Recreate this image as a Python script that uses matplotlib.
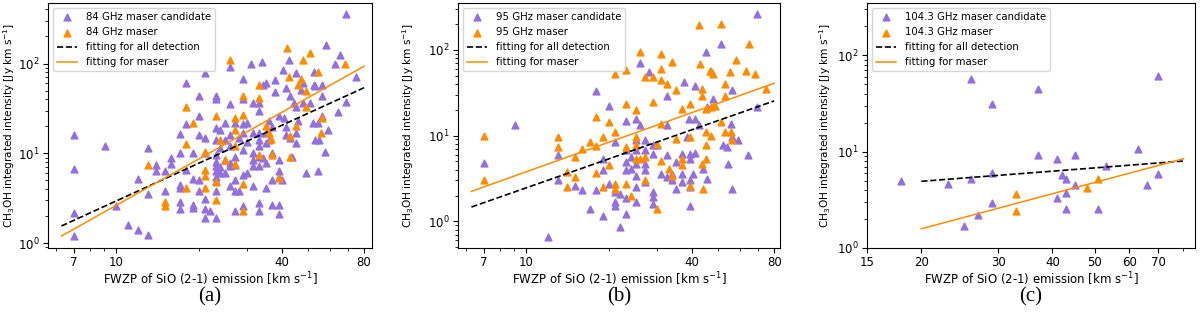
import matplotlib
matplotlib.use("Agg")
import matplotlib.pyplot as plt
from matplotlib.ticker import NullFormatter, FixedLocator, FixedFormatter
import numpy as np

# ---- panel (a): 84 GHz ----
a_cand = [(7,16),(7,6.7),(7,2.2),(7,1.2),(9.1,12),(10,2.6),(11,1.6),(12,5.2),(12,1.4),
          (13,11.5),(13,3.5),(13,1.25),(14,7.5),(14,6.3),(15,6.3),(15,3.8),(15.8,9),(15.8,7.7),
          (17,16.5),(17,10),(17,4.5),(17,4.1),(17,2.9),(17,2.4),(18,60),(18,21.5),(18,6.6),
          (19,10),(19,5.2),(19,2.7),(19,2.5),(20,44),(20,26),(20,16),(20,5),(20,3.8),
          (21,78),(21,15),(21,10),(21,3.1),(21,2.4),(21,1.9),(21.9,2.3),
          (23,43),(23,40),(23,19),(23,14),(23,9.5),(23,8.1),(23,7.2),(23,6.3),(23,5.5),(23,4.9),(23,3.8),(23,1.9),
          (23.8,18),(23.8,11.6),(23.8,7),(23.8,6),(24.9,21.6),(24.9,14),(24.9,8.5),(24.9,6),
          (25.9,91),(25.9,35),(25.9,16),(25.9,12),(25.9,7.8),(25.9,7.2),(25.9,4.3),
          (27,21.6),(27,9.2),(27,7.4),(27,5),(27,3.8),(27,2.3),(28,15),(28,3.8),
          (29,68),(29,40),(29,21),(29,17),(29,11),(29,5.8),(29,2.6),(30,22),(30,13.5),(30,6),(31,100),
          (31.5,36),(31.5,17),(31.5,10),(31.5,8.5),(31.5,7.2),(31.5,4.3),
          (33,36),(33,30),(33,17),(33,14),(33,12),(33,9.2),(33,7.2),(33,2.8),(33,2.3),
          (34,105),(34.3,58),(34.3,9),(35,60),(35,17),(35,13),(35,7.8),(35,4.1),(36,23),(36,14),
          (37,19.5),(37,10),(37,5),(37,2.7),(38,66),(38,48),
          (39,26),(39,8.5),(39,6.3),(39,5.5),(39,2.7),(39,2.1),(40,5),(40.5,85),(41,25),
          (41.7,54),(41.7,19.5),(41.7,16),(42.5,109),(43,43),(43,15),(43.5,9.2),(44.5,36),
          (45,78),(45,33),(45,17),(45,13),(46,23),(47,51),(48,60),(48,36),(49,6),
          (51,36),(52,21.6),(52.5,81),(52.5,58),(53,56),(53,14),(54.5,21.6),(54.5,6.3),(55,14),
          (56,43),(56,26),(56,58),(57.5,10.5),(58,160),(59,18),(62.5,100),(64.5,29),(65.3,125),
          (69,358),(69,37.5),(75,71)]
a_maser = [(13,7.5),(15,2.9),(15,2.6),(18,33),(18,12.8),(18,4.1),(19,21.6),(21,10.5),(21,6.5),
           (21,5.6),(21,4.1),(23,26),(23,4.8),(23,3.0),(23.8,14),(24.9,8.5),(26,109),(27,25),
           (27,18),(27,12),(27,7.6),(29,44),(29,27),(29,4.6),(29,2.3),(33,58),(33,41),(33,9.5),
           (35,20),(36,17),(36.5,14.5),(37,9.5),(39,5.3),(42,148),(42.5,71),(43,15.5),(43,9.2),
           (45,20),(46,58),(47,68),(48,109),(49,50),(49,33),(51,130),(54.5,81),(55.5,17),
           (56,25),(68,100)]

# ---- panel (b): 95 GHz ----
b_cand = [(7,4.8),(9.1,13.4),(12,0.66),(13,3.0),(13,6),(15,2.6),(16,2.35),(17,1.4),(18,33),
          (18,2.3),(19,4.0),(19,5.4),(19,1.17),(20,22),(20,2.75),(21,8.5),(21,2.2),(21,1.7),
          (21,1.5),(22,2.1),(22,0.86),(23,14.8),(23,6.8),(23,4.9),(23,4.0),(23,1.85),(23,1.23),
          (24,5.6),(24,4.1),(25,15.7),(25,8.8),(25,6.8),(25,4.7),(25,3.4),(25,2.5),(25,1.7),
          (26,70),(26,13.2),(27,8.8),(27,6.8),(27,4.7),(27,4.0),(27,2.9),(28,55),(29,7.7),
          (29,6.1),(29,2.2),(29,1.9),(29,1.6),(30,7.7),(31,3.6),(32.4,28.6),(32.4,13.2),
          (32.4,5.9),(32.4,3.3),(33.8,3.6),(33.8,3.0),(35,4.9),(35,2.4),(37,6.1),(37,3.6),
          (37,2.9),(37.5,42),(38.4,9.7),(39,15.7),(39.5,6.1),(39.5,5.4),(39.5,3.0),(39.5,2.5),
          (39.5,1.5),(40.5,3.6),(41,38),(41,15.7),(41,6.3),(42.5,13.2),(44,4.1),(45,95),
          (45.4,21.5),(45.4,3.1),(48,27),(51,117),(52,7.7),(53.7,7.4),(54.5,4.7),(55.5,13.7),
          (56,33.6),(56,9.7),(56,2.4),(59,8.8),(64.4,5.9),(69.5,262),(69.5,21.5)]
b_maser = [(7,10),(7,3.05),(13,9.7),(13,7.3),(14,3.8),(14,2.5),(15,5.6),(15,3.3),(16,7.0),
           (17,8.4),(18,16.4),(18,7.5),(18,3.7),(19,9.6),(19,2.5),(20,14.4),(20,4.5),(21,52),
           (21,11),(21,2.75),(21,2.4),(23,58),(23,23.5),(23,7.3),(23,2.75),(24,2.0),(25,19.6),
           (25,9.6),(25,7.7),(25,5.4),(26,95),(26,5.4),(27,48),(27,5.6),(27,3.0),(29,48),
           (29,24.5),(29.8,8.0),(29.8,1.4),(31,90),(31,60),(31,44),(31,13.7),(31,5.1),(32.4,40),
           (33,4.1),(33.8,72),(34,3.4),(35,33.6),(35,9.2),(37,20.6),(37,5.4),(37,4.5),(39.5,9.6),
           (39.5,23.5),(39.5,2.6),(42.5,192),(43,69),(43.5,29),(43.5,34.5),(43.5,4.7),(44,2.4),
           (45,20.6),(45,11),(45,7.7),(45,5.4),(46.5,57),(47,57),(47,21.6),(47,10),(48,52),
           (48.5,22),(51,201),(51,14.4),(53,40),(53,29),(53,11),(55,55),(55.5,11),(56,8.8),
           (58,75),(63,57),(64.5,117),(68,52),(75,34.5)]

# ---- panel (c): 104.3 GHz ----
c_cand = [(18,5.0),(23,4.6),(26,57),(26,5.25),(25,1.7),(27,2.2),(29,31),(29,6.05),(29,2.9),
          (37,45),(37,9.2),(41,8.3),(41,3.3),(42,5.7),(43,5.2),(43,3.7),(43,2.55),(45,9.2),
          (45,4.5),(51,2.55),(53,7.1),(63,10.6),(66,4.5),(70,61),(70,5.8)]
c_maser = [(33,3.6),(33,2.4),(48,4.2),(51,5.25)]

# fitted lines: log10(y) = intercept + slope*log10(x), drawn between x_start and x_end
fit_all = [(1.394, -0.922), (1.12, -0.728), (0.35, 0.237)]
fit_maser = [(1.712, -1.288), (1.141, -0.562), (1.208, -1.372)]
fit_range = [(6.3, 80), (6.3, 80), (20, 80)]

freqs = ["84", "95", "104.3"]
captions = ["(a)", "(b)", "(c)"]
xlims = [(5.63, 85.5), (5.63, 84), (15, 85)]
ylims = [(0.887, 471), (0.49, 350), (1, 350)]
xticks = [[7, 10, 40, 80], [7, 10, 40, 80], [15, 20, 30, 40, 50, 60, 70]]

cands = [a_cand, b_cand, c_cand]
masers = [a_maser, b_maser, c_maser]

fig = plt.figure(figsize=(12, 3.13), dpi=100)
# axes boxes in figure fraction (left, bottom, width, height)
boxes = [[0.040, 0.2077, 0.270, 0.7827],
         [0.3817, 0.2077, 0.2683, 0.7827],
         [0.7225, 0.2077, 0.2733, 0.7827]]
# right edge of the rotated y label, in axes fraction
ylabel_x = [-0.095, -0.13, -0.103]

purple = "mediumpurple"
orange = "darkorange"

for i in range(3):
    ax = fig.add_axes(boxes[i])
    cx, cy = zip(*cands[i])
    mx, my = zip(*masers[i])
    ax.scatter(cx, cy, marker="^", s=24, color=purple, label=freqs[i] + " GHz maser candidate")
    ax.scatter(mx, my, marker="^", s=24, color=orange, label=freqs[i] + " GHz maser")
    xs = np.array(fit_range[i], dtype=float)
    b, a = fit_all[i]
    ax.plot(xs, 10**(a + b*np.log10(xs)), "k--", lw=1.2, label="fitting for all detection")
    b, a = fit_maser[i]
    ax.plot(xs, 10**(a + b*np.log10(xs)), "-", color=orange, lw=1.1, label="fitting for maser")
    ax.set_xscale("log")
    ax.set_yscale("log")
    ax.set_xlim(*xlims[i])
    ax.set_ylim(*ylims[i])
    ax.xaxis.set_major_locator(FixedLocator(xticks[i]))
    ax.xaxis.set_major_formatter(FixedFormatter([str(t) for t in xticks[i]]))
    ax.xaxis.set_minor_formatter(NullFormatter())
    ax.tick_params(labelsize=8.5, pad=2.5)
    ax.set_xlabel("FWZP of SiO (2-1) emission [km s$^{-1}$]", fontsize=8.5, labelpad=1)
    ax.set_ylabel("CH$_3$OH integrated intensity [Jy km s$^{-1}$]", fontsize=7.6)
    ax.yaxis.set_label_coords(ylabel_x[i], 0.5)
    ax.legend(loc="upper left", fontsize=7.3)
    fig.text(boxes[i][0] + boxes[i][2]/2, 0.05, captions[i], ha="center", va="center",
             fontsize=15, family="Liberation Serif")

fig.savefig("out.png", dpi=100)
